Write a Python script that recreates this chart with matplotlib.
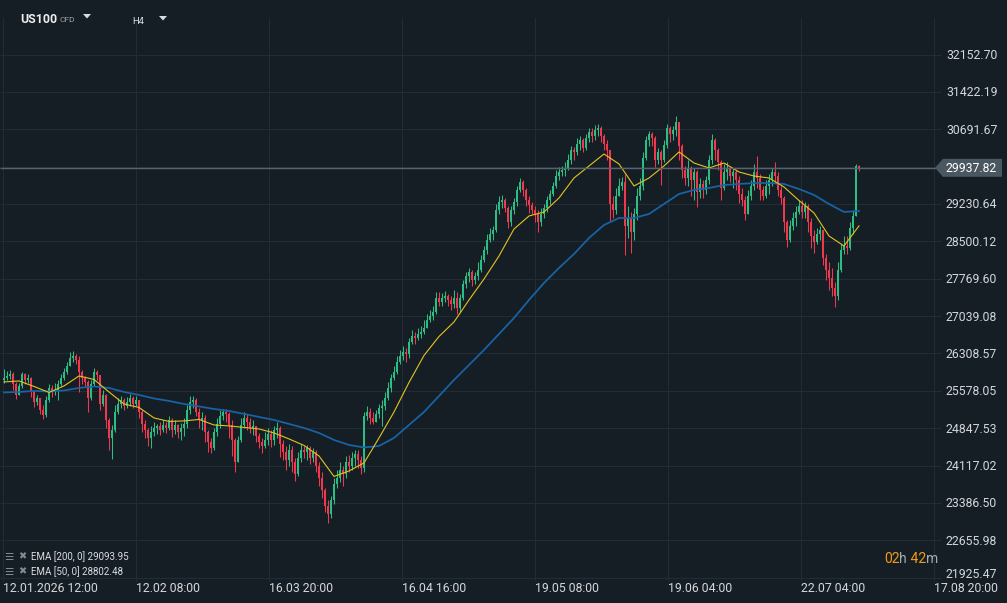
import matplotlib
matplotlib.use("Agg")
import matplotlib.pyplot as plt
import numpy as np
from matplotlib.patches import Polygon

# ---------------- data (US100 CFD, H4, sampled candles) ----------------
first_open = 25790.0
closes = [
    25830, 25868, 25907, 25712, 25497, 25673, 25907, 25790, 25830, 25556,
    25360, 25439, 25204, 25106, 25399, 25634, 25556, 25595, 25712, 25830,
    25947, 26064, 26220, 26259, 26181, 25947, 25830, 25751, 25439, 25712,
    25947, 25888, 25321, 25497, 25008, 24656, 24813, 25164, 25321, 25399,
    25282, 25360, 25439, 25321, 25399, 25164, 24930, 24813, 24656, 24773,
    24852, 24891, 24813, 24910, 24852, 25008, 24813, 24910, 24773, 24852,
    24930, 25204, 25360, 25399, 25164, 25008, 25047, 24773, 24578, 24461,
    24773, 24930, 25086, 25164, 25126, 24910, 24617, 24187, 24617, 24910,
    25047, 24969, 24852, 24891, 24695, 24578, 24500, 24617, 24734, 24617,
    24813, 24852, 24539, 24382, 24226, 24422, 24187, 23952, 24265, 24422,
    24382, 24461, 24265, 24382, 24109, 23874, 23640, 23327, 23170, 23444,
    23757, 23874, 24031, 23952, 24187, 24109, 24265, 24343, 24226, 24070,
    25086, 25164, 25047, 24969, 25126, 25243, 25282, 25439, 25634, 25830,
    25947, 26142, 26259, 26337, 26298, 26533, 26650, 26611, 26689, 26728,
    26807, 26963, 27041, 27119, 27393, 27315, 27393, 27432, 27354, 27276,
    27393, 27198, 27393, 27667, 27823, 27901, 27745, 27823, 27941, 28136,
    28332, 28527, 28644, 28723, 29114, 29270, 29309, 29153, 28879, 29114,
    29270, 29505, 29661, 29505, 29309, 29211, 29114, 29035, 28879, 29035,
    29153, 29309, 29426, 29583, 29778, 29857, 29896, 29935, 30091, 30287,
    30247, 30404, 30482, 30326, 30521, 30638, 30560, 30678, 30716, 30560,
    30404, 30287, 29231, 29114, 29387, 29583, 29661, 28801, 28957, 28683,
    29035, 29387, 29583, 30130, 30482, 30599, 30521, 30091, 30248, 30091,
    30384, 30716, 30599, 30678, 30834, 30365, 29896, 29739, 29935, 29700,
    29857, 29466, 29622, 29505, 29700, 30091, 30482, 30287, 30052, 29544,
    29857, 29935, 29778, 29857, 29700, 29426, 29309, 29035, 29387, 29583,
    29857, 29739, 29505, 29387, 29583, 29700, 29857, 29778, 29505, 29348,
    28879, 28527, 28801, 28957, 29075, 29192, 29075, 29192, 28879, 28605,
    28488, 28644, 28723, 28175, 27941, 27784, 27589, 27432, 27941, 28332,
    28410, 28371, 28762, 28996, 29974, 29937.82,
]
highs = [
    26005, 25966, 25986, 25947, 25751, 25731, 25947, 25927, 25907, 25849,
    25595, 25497, 25439, 25301, 25478, 25712, 25692, 25731, 25790, 25907,
    26025, 26142, 26337, 26357, 26298, 26259, 25986, 25868, 25790, 25790,
    26025, 25986, 25868, 25595, 25516, 25047, 24911, 25301, 25439, 25478,
    25439, 25458, 25516, 25478, 25478, 25360, 25204, 25008, 24852, 24891,
    24969, 24930, 24969, 25008, 24969, 25086, 25047, 25008, 24930, 24950,
    25047, 25301, 25478, 25478, 25439, 25243, 25164, 25106, 24813, 24656,
    24852, 25047, 25204, 25223, 25223, 25164, 25008, 24656, 24695, 25047,
    25164, 25126, 25047, 25008, 24852, 24754, 24656, 24773, 24852, 24813,
    24891, 24969, 24891, 24617, 24500, 24539, 24500, 24265, 24382, 24539,
    24500, 24519, 24500, 24461, 24422, 24187, 23991, 23679, 23444, 23522,
    23874, 24031, 24187, 24109, 24304, 24324, 24382, 24422, 24422, 24304,
    25164, 25282, 25243, 25164, 25204, 25321, 25399, 25556, 25751, 25907,
    26064, 26259, 26377, 26455, 26416, 26611, 26768, 26728, 26807, 26846,
    26963, 27080, 27159, 27237, 27510, 27510, 27491, 27530, 27471, 27432,
    27550, 27510, 27471, 27745, 27901, 27980, 27941, 27901, 28097, 28234,
    28410, 28644, 28761, 28801, 29231, 29387, 29407, 29348, 29192, 29192,
    29348, 29583, 29739, 29700, 29544, 29387, 29270, 29192, 29114, 29153,
    29231, 29387, 29505, 29661, 29896, 29955, 29974, 30052, 30208, 30365,
    30345, 30521, 30560, 30521, 30599, 30716, 30716, 30775, 30795, 30756,
    30599, 30482, 30287, 29387, 29544, 29739, 29759, 29817, 29192, 29075,
    29153, 29544, 29739, 30248, 30560, 30658, 30638, 30560, 30326, 30287,
    30482, 30795, 30756, 30756, 30951, 30795, 30404, 29974, 30091, 29974,
    29935, 29896, 29739, 29700, 29778, 30189, 30599, 30521, 30326, 30091,
    30013, 30052, 29974, 29935, 29896, 29778, 29544, 29387, 29505, 29700,
    30013, 30169, 29817, 29583, 29700, 29817, 29935, 30052, 29857, 29583,
    29387, 28918, 28918, 29075, 29192, 29309, 29309, 29270, 29231, 28957,
    28723, 28762, 28801, 28723, 28253, 28097, 27980, 27706, 28097, 28449,
    28605, 28605, 28879, 29114, 30013, 29993,
]
lows = [
    25731, 25790, 25810, 25595, 25419, 25556, 25634, 25712, 25731, 25458,
    25262, 25301, 25126, 25028, 25067, 25360, 25458, 25497, 25399, 25673,
    25790, 25907, 26064, 26142, 26103, 25556, 25712, 25653, 25164, 25399,
    25673, 25790, 25204, 25282, 24852, 24422, 24246, 24773, 25126, 25243,
    25204, 25243, 25282, 25243, 25282, 25047, 24773, 24656, 24500, 24461,
    24695, 24734, 24715, 24773, 24754, 24813, 24676, 24734, 24656, 24617,
    24695, 24852, 25126, 25243, 25086, 24852, 24813, 24578, 24382, 24363,
    24422, 24695, 24852, 25008, 24969, 24656, 24304, 23991, 24187, 24578,
    24852, 24813, 24754, 24715, 24578, 24461, 24363, 24461, 24519, 24480,
    24519, 24656, 24285, 24226, 24031, 24109, 23991, 23815, 23913, 24187,
    24265, 24226, 24148, 24187, 23991, 23718, 23483, 23210, 22994, 23092,
    23366, 23679, 23796, 23718, 23874, 23991, 24031, 24109, 24070, 23952,
    23991, 25008, 24930, 24930, 24969, 25047, 24891, 25204, 25399, 25556,
    25790, 25907, 26103, 26181, 26142, 26220, 26494, 26494, 26572, 26611,
    26689, 26807, 26924, 26963, 27080, 27237, 27237, 27315, 27237, 27159,
    27198, 27080, 27119, 27354, 27589, 27706, 27628, 27667, 27745, 27901,
    28097, 28253, 28488, 28527, 28683, 29035, 29153, 29075, 28762, 28801,
    29035, 29192, 29465, 29387, 29192, 29055, 29035, 28879, 28683, 28801,
    28957, 29075, 29231, 29387, 29544, 29700, 29778, 29778, 29896, 30013,
    30091, 30189, 30287, 30247, 30287, 30443, 30443, 30482, 30560, 30443,
    30287, 30091, 28879, 28957, 29035, 29387, 29505, 28234, 28566, 28273,
    28527, 28918, 29309, 29505, 30091, 30365, 30365, 29955, 30013, 29602,
    30052, 30326, 30443, 30482, 30560, 30091, 29739, 29602, 29583, 29387,
    29309, 29172, 29348, 29348, 29426, 29622, 30013, 30091, 29896, 29309,
    29505, 29700, 29661, 29544, 29505, 29250, 29192, 28918, 29035, 29309,
    29505, 29544, 29309, 29309, 29348, 29426, 29583, 29661, 29387, 29231,
    28683, 28390, 28488, 28723, 28801, 29035, 28957, 28957, 28683, 28371,
    28273, 28449, 28527, 28038, 27745, 27550, 27432, 27217, 27354, 27901,
    28253, 28253, 28332, 28644, 28996, 29876,
]

# EMA values read every 5th sampled candle
ema_step = 5
ema200 = [
    25546, 25555, 25575, 25565, 25585, 25634, 25663, 25634, 25555, 25497,
    25428, 25380, 25321, 25272, 25223, 25184, 25126, 25067, 25008, 24930,
    24852, 24754, 24617, 24519, 24470, 24500, 24656, 24910, 25164, 25477,
    25790, 26083, 26377, 26689, 27002, 27354, 27687, 27980, 28253, 28566,
    28820, 28957, 28957, 29035, 29231, 29426, 29505, 29544, 29602, 29622,
    29641, 29641, 29622, 29524, 29407, 29231, 29075, 29093.95,
]
ema50 = [
    25751, 25770, 25663, 25546, 25673, 25868, 25800, 25555, 25321, 25252,
    25047, 24979, 24989, 25018, 24910, 24891, 24862, 24832, 24754, 24637,
    24510, 24304, 23903, 24011, 24167, 24656, 25164, 25741, 26269, 26640,
    26924, 27354, 27764, 28214, 28742, 28996, 29075, 29348, 29739, 29974,
    30208, 30013, 29583, 29739, 29974, 30248, 30032, 29935, 30032, 29857,
    29778, 29739, 29563, 29299, 29055, 28605, 28410, 28802.48,
]

price_levels = [32152.70, 31422.19, 30691.67, 29961.15, 29230.64, 28500.12,
                27769.60, 27039.08, 26308.57, 25578.05, 24847.53, 24117.02,
                23386.50, 22655.98, 21925.47]
x_labels = ["12.01.2026 12:00", "12.02 08:00", "16.03 20:00", "16.04 16:00",
            "19.05 08:00", "19.06 04:00", "22.07 04:00", "17.08 20:00"]
bars_per_label = 133
last_price = 29937.82
ema200_last = 29093.95
ema50_last = 28802.48

# ---------------- figure ----------------
plt.rcParams['font.family'] = ['Roboto', 'DejaVu Sans']
W, H, DPI = 1007, 603, 100
fig = plt.figure(figsize=(W / DPI, H / DPI), dpi=DPI)
BG = '#161e25'
fig.patch.set_facecolor(BG)
ax = fig.add_axes([0, 0, 1, 1])
ax.set_facecolor(BG)
ax.set_axis_off()

Y_TOP, Y_BOT = 33219.3, 21428.8
ax.set_xlim(-3, W - 3)
ax.set_ylim(Y_BOT, Y_TOP)
PPX = (Y_TOP - Y_BOT) / H


def py2p(py):
    return Y_TOP - py * PPX


def px2t(px):
    return px - 3


def p2py(p):
    return (Y_TOP - p) / PPX


GRID = '#222c34'
TXT = '#d3d7da'
GREEN = '#2bbd84'
RED = '#f2384e'

# grid
ax.hlines(price_levels, px2t(0), px2t(941), color=GRID, lw=0.8, zorder=0)
label_t = [i * bars_per_label for i in range(len(x_labels))]
ax.vlines(label_t, py2p(581), py2p(18), color=GRID, lw=0.8, zorder=0)

# candles
n = min(len(closes), len(highs), len(lows))
c = np.array(closes[:n], dtype=float)
h = np.array(highs[:n], dtype=float)
lo = np.array(lows[:n], dtype=float)
o = np.concatenate([[first_open], c[:-1]])
h = np.maximum(h, np.maximum(o, c))
lo = np.minimum(lo, np.minimum(o, c))
t = 1 + 3 * np.arange(n)
cols = np.where(c >= o, GREEN, RED)
ax.vlines(t, lo, h, colors=cols, lw=0.75, zorder=2)
body_b = np.minimum(o, c)
body_h = np.maximum(np.abs(c - o), PPX * 0.9)
ax.bar(t, body_h, bottom=body_b, width=2.0, color=cols, linewidth=0, zorder=3)

# EMAs
et = t[::ema_step]
m200 = min(len(et), len(ema200))
m50 = min(len(et), len(ema50))
ax.plot(et[:m200], ema200[:m200], color='#1764a6', lw=1.25, zorder=4,
        solid_joinstyle='round')
ax.plot(et[:m50], ema50[:m50], color='#e3c320', lw=0.8, zorder=5,
        solid_joinstyle='round')

# current price line and tag
ax.hlines(last_price, px2t(0), px2t(936), color='#58646d', lw=1.0, zorder=6)
hh = 9 * PPX
tag = Polygon([(px2t(935), last_price), (px2t(943), last_price + hh),
               (px2t(1002), last_price + hh), (px2t(1002), last_price - hh),
               (px2t(943), last_price - hh)], closed=True,
              fc='#4a5660', ec='none', zorder=8)
ax.add_patch(tag)

# price axis labels
for lvl in price_levels:
    if abs(lvl - last_price) < 300:
        continue
    py = p2py(lvl)
    base = py + 4.5 if py < 570 else py
    ax.text(px2t(946), py2p(base), f"{lvl:.2f}", color=TXT, fontsize=8.8,
            ha='left', va='baseline', zorder=7)
ax.text(px2t(946), py2p(p2py(last_price) + 4.5), f"{last_price:.2f}",
        color='#ffffff', fontsize=8.8, ha='left', va='baseline', zorder=9)

# time labels
for tt, lab in zip(label_t, x_labels):
    ax.text(tt, py2p(592), lab, color=TXT, fontsize=8.8, ha='left',
            va='baseline', zorder=7)

# header
ax.text(px2t(20), py2p(23.3), "US100", color='#eceef0', fontsize=8.8,
        fontweight='bold', ha='left', va='baseline')
ax.text(px2t(60), py2p(21.7), "CFD", color='#9aa1a7', fontsize=6.0,
        ha='left', va='baseline')
ax.text(px2t(132), py2p(24), "H4", color='#dfe2e5', fontsize=6.8,
        ha='left', va='baseline')
for cx, cy in [(87, 16), (163, 18)]:
    tri = Polygon([(px2t(cx - 4), py2p(cy - 2)), (px2t(cx + 4), py2p(cy - 2)),
                   (px2t(cx), py2p(cy + 2.5))], closed=True, fc='#d8dbde',
                  ec='none')
    ax.add_patch(tri)

# legend (bottom-left)
for base, name, val in [(560.5, "EMA [200, 0]", ema200_last),
                        (575.5, "EMA [50, 0]", ema50_last)]:
    ax.text(px2t(4), py2p(base - 0.5), "\u2630", color='#838c94', fontsize=7.5,
            family=['DejaVu Sans'], ha='left', va='baseline')
    ax.text(px2t(18.5), py2p(base - 1), "\u2716", color='#838c94', fontsize=7,
            family=['DejaVu Sans'], ha='left', va='baseline')
    ax.text(px2t(31), py2p(base), f"{name} {val:.2f}", color='#dadde0',
            fontsize=7.0, ha='left', va='baseline')

# countdown "02h 42m"
renderer = fig.canvas.get_renderer()
xpos = 884
for part, col in [("02", '#f29b13'), ("h", '#a4abb1'), (" 42", '#f29b13'),
                  ("m", '#a4abb1')]:
    tx = ax.text(px2t(xpos), py2p(563), part, color=col, fontsize=10,
                 ha='left', va='baseline', zorder=7)
    bb = tx.get_window_extent(renderer=renderer)
    xpos += bb.width

fig.savefig("out.png", dpi=DPI, facecolor=BG)
